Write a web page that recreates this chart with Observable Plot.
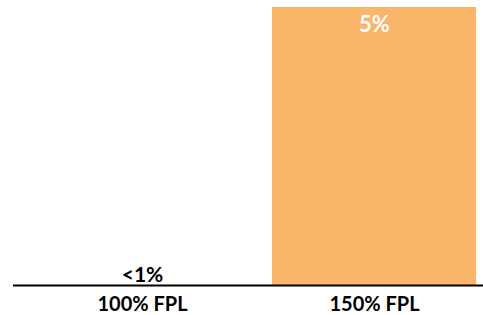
<!DOCTYPE html>
<html>
<head>
<meta charset="utf-8">
<script src="https://cdn.jsdelivr.net/npm/d3@7"></script>
<script src="https://cdn.jsdelivr.net/npm/@observablehq/plot@0.6"></script>
<style>
  html, body { margin: 0; padding: 0; background: #fff; }
</style>
</head>
<body>
<div id="chart"></div>
<script>
const categories = ["100% FPL", "150% FPL"];
const values = [0, 5];
const valueLabels = ["<1%", "5%"];

const data = categories.map((c, i) => ({ cat: c, value: values[i], label: valueLabels[i] }));

const chart = Plot.plot({
  width: 483,
  height: 315,
  marginLeft: 13,
  marginRight: 0,
  marginTop: 7,
  marginBottom: 30,
  style: { fontFamily: "Lato, sans-serif", background: "#fff" },
  x: { domain: categories, paddingInner: 0.12, paddingOuter: 0.07, align: 0.8, label: null },
  y: { domain: [0, 5], axis: null },
  marks: [
    Plot.barY(data, { x: "cat", y: "value", fill: "#F9B66B" }),
    Plot.ruleY([0], { stroke: "#000", strokeWidth: 2 }),
    Plot.text(data.filter(d => d.value >= 2), { x: "cat", y: "value", text: "label", fill: "#fff", fontSize: 22, fontWeight: "bold", dy: 17 }),
    Plot.text(data.filter(d => d.value < 2), { x: "cat", y: "value", text: "label", fill: "#000", fontSize: 21, fontWeight: "bold", dy: -10 }),
    Plot.axisX({ tickSize: 0, tickPadding: 11, fontSize: 20, fontWeight: "bold", fill: "#000", label: null })
  ]
});
document.getElementById("chart").appendChild(chart);
</script>
</body>
</html>
